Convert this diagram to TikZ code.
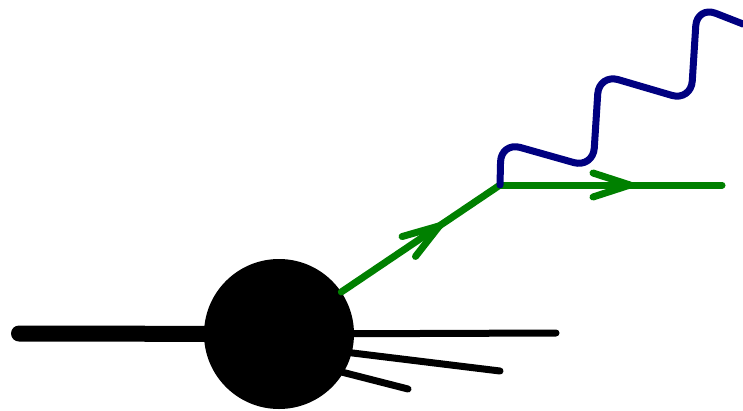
\documentclass[tikz,border=0pt]{standalone}
\usetikzlibrary{decorations.markings,calc}
\definecolor{fgreen}{RGB}{0,128,0}
\definecolor{navyc}{RGB}{0,0,128}
\tikzset{
  blobstyle/.style={circle,fill=black,draw=none,minimum size=150pt,inner sep=0pt},
  jetline/.style={line width=7pt,line cap=round,black},
  beamline/.style={line width=16pt,line cap=round,black},
  fermion/.style={line width=7pt,line cap=round,fgreen},
  photon/.style={line width=7pt,line cap=round,line join=round,navyc,rounded corners=20pt},
  chevron/.style={line width=7pt,line cap=round,line join=round,fgreen},
  arrowat/.style={postaction={decorate,decoration={markings,
      mark=at position #1 with {\draw[chevron] (-37pt,12pt) -- (0,0) -- (-37pt,-12pt);}}}}
}
\begin{document}
\begin{tikzpicture}[x=1pt,y=-1pt]
\useasboundingbox (0,0) rectangle (743,410);
\coordinate (c) at (279,334);
\coordinate (beamstart) at (19,333.5);
\coordinate (jet1) at (556,333);
\coordinate (jet2) at (500,371);
\coordinate (jet3) at (408,389);
\coordinate (v) at (500,185);
\coordinate (fend) at (722,185);
\coordinate (gend) at (743,24);
% lines into/out of the blob (hidden parts behind the blob)
\draw[beamline] (beamstart) -- (c);
\draw[jetline] (c) -- (jet1);
\draw[jetline] ($(c)+(0,10)$) -- (jet2);
\draw[jetline] ($(c)+(0,22)$) -- (jet3);
\node[blobstyle] (blob) at (c) {};
% fermion lines
\draw[fermion,arrowat=-73pt] (blob) -- (v);
\draw[fermion,arrowat=130pt] (v) -- (fend);
% photon
\draw[photon] (v) -- (501,142) -- (593,168) -- (599,74) -- (691,101) -- (697,6) -- (gend);
\end{tikzpicture}
\end{document}
